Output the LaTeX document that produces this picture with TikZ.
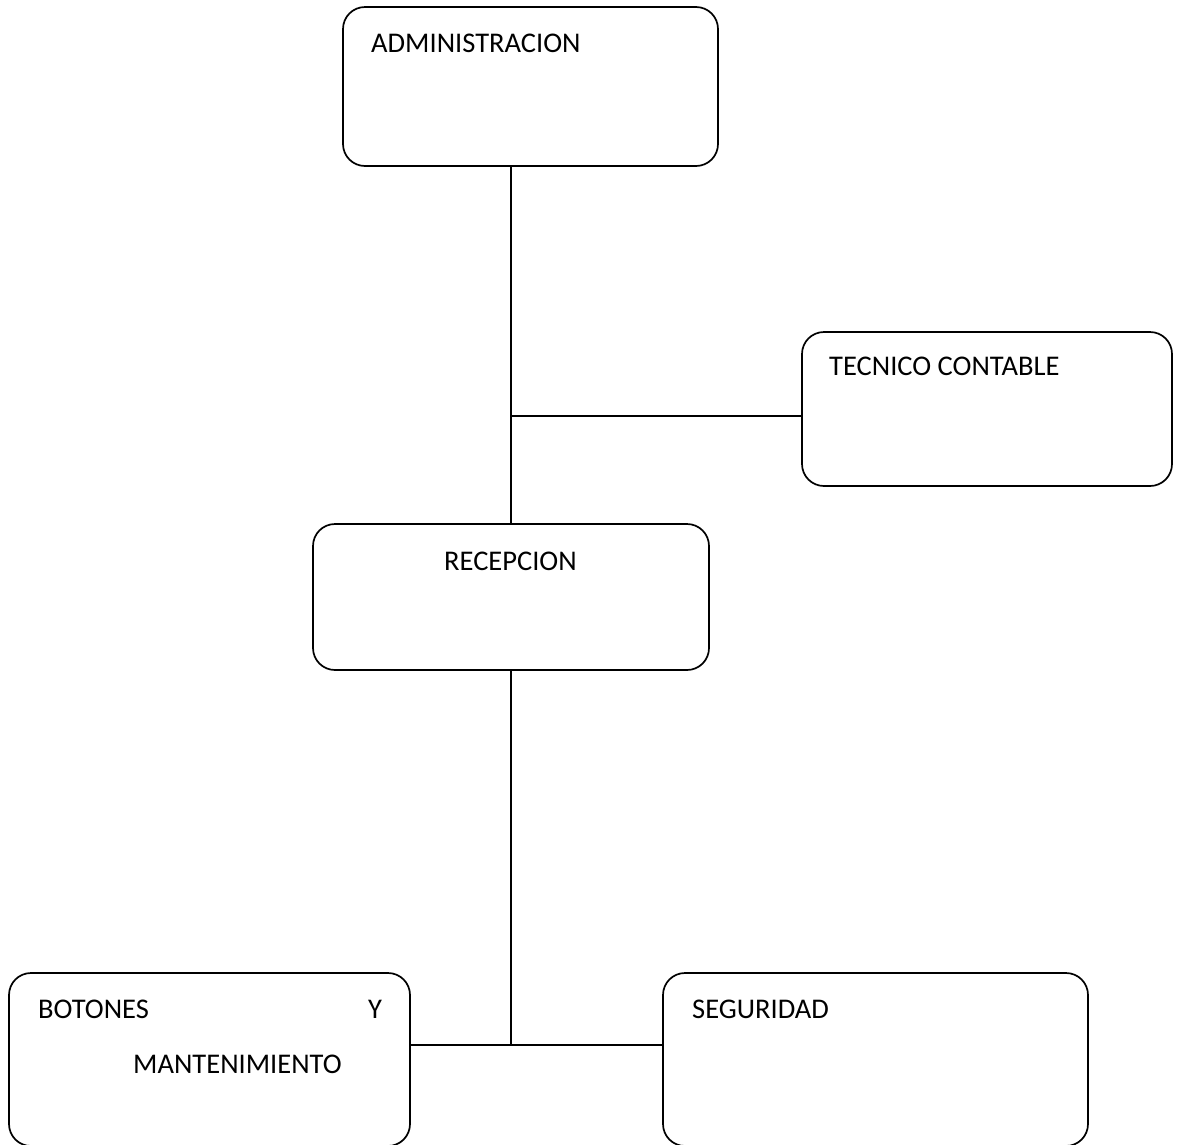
\documentclass[tikz,border=0pt]{standalone}
\usepackage{fontspec}
\setmainfont{Carlito}
\begin{document}
\begin{tikzpicture}[x=1pt,y=-1pt,
  caja/.style={draw,line width=1.7pt,rounded corners=22pt,inner sep=0pt},
  texto/.style={anchor=base west,inner sep=0pt,font=\fontsize{28.5}{34}\selectfont},
  linea/.style={line width=1.7pt}]
\useasboundingbox (0,0) rectangle (1181,1144);
%\draw (0,0) grid[step=100] (1181,1144);
\node[caja,minimum width=375pt,minimum height=159pt] (admin) at (530.5,86.5) {};
\node[texto] (tadmin) at (371,52) {ADMINISTRACION};

\node[caja,minimum width=370pt,minimum height=154pt] (tecnico) at (987,409) {};
\node[texto] (ttecnico) at (829,375) {TECNICO CONTABLE};

\node[caja,minimum width=396pt,minimum height=146pt] (recep) at (511,597) {};
\node[texto] (trecep) at (444,570) {RECEPCION};

\node[caja,minimum width=401pt,minimum height=173pt] (botones) at (209.5,1059.5) {};
\node[texto] (tbotones) at (38,1018) {BOTONES};
\node[texto] (ty) at (368,1018) {Y};
\node[texto] (tmant) at (133,1073) {MANTENIMIENTO};

\node[caja,minimum width=425pt,minimum height=173pt] (seguridad) at (875.5,1059.5) {};
\node[texto] (tseg) at (692,1018) {SEGURIDAD};

\coordinate (jtec) at (511,416);
\coordinate (jbaja) at (511,1045);
\draw[linea] (recep.north) -- (recep.north |- admin.south);
\draw[linea] (jtec) -- (jtec -| tecnico.west);
\draw[linea] (recep.south) -- (jbaja);
\draw[linea] (jbaja -| botones.east) -- (jbaja -| seguridad.west);
\end{tikzpicture}
\end{document}
